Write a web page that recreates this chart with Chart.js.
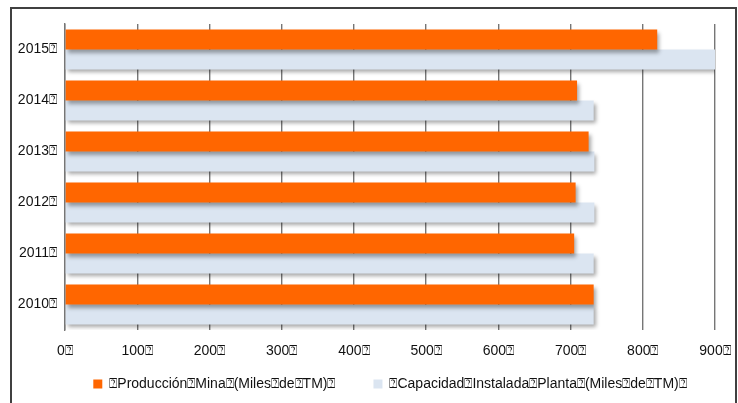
<!DOCTYPE html>
<html>
<head>
<meta charset="utf-8">
<script src="https://cdn.jsdelivr.net/npm/chart.js@4"></script>
<style>
  html, body { margin: 0; padding: 0; background: #ffffff; }
  #wrap { position: relative; width: 738px; height: 403px; overflow: hidden; }
  #frame { position: absolute; left: 10px; top: 7px; width: 723px; height: 420px;
           border: 2px solid #404040; pointer-events: none; }
  canvas { position: absolute; left: 0; top: 0; }
</style>
</head>
<body>
<div id="wrap">
  <canvas id="chart" width="738" height="403"></canvas>
  <div id="frame"></div>
</div>
<script>
// Years, listed top to bottom
const years = ['2015', '2014', '2013', '2012', '2011', '2010'];
// Mine production, thousand tonnes
const produccionMina = [820, 709, 725, 707, 705, 732];
// Installed plant capacity, thousand tonnes
const capacidadPlanta = [900, 732, 733, 733, 732, 732];
// Value axis ticks
const xTicks = [0, 100, 200, 300, 400, 500, 600, 700, 800, 900];

const MARK = '\u2370';
const seriesNames = [
  MARK + 'Producción' + MARK + 'Mina' + MARK + '(Miles' + MARK + 'de' + MARK + 'TM)' + MARK,
  MARK + 'Capacidad' + MARK + 'Instalada' + MARK + 'Planta' + MARK + '(Miles' + MARK + 'de' + MARK + 'TM)' + MARK
];

const FONT = { family: '"Liberation Sans", Arial, sans-serif', size: 14 };

// Soft drop shadow under the bars
const barShadow = {
  id: 'barShadow',
  beforeDatasetsDraw(chart) {
    const c = chart.ctx;
    c.save();
    c.shadowColor = 'rgba(0,0,0,0.35)';
    c.shadowBlur = 4;
    c.shadowOffsetX = 2;
    c.shadowOffsetY = 3;
  },
  afterDatasetsDraw(chart) { chart.ctx.restore(); }
};

new Chart(document.getElementById('chart'), {
  type: 'bar',
  data: {
    labels: years.map(y => y + MARK),
    datasets: [
      { label: seriesNames[0], data: produccionMina, backgroundColor: '#FF6600',
        categoryPercentage: 0.78, barPercentage: 1.0 },
      { label: seriesNames[1], data: capacidadPlanta, backgroundColor: '#DBE5F1',
        categoryPercentage: 0.78, barPercentage: 1.0 }
    ]
  },
  options: {
    indexAxis: 'y',
    responsive: false,
    animation: false,
    devicePixelRatio: 1,
    layout: { padding: { left: 0, right: 23, top: 24, bottom: 2 } },
    scales: {
      x: {
        min: 0, max: 900,
        afterBuildTicks(scale) { scale.ticks = xTicks.map(v => ({ value: v })); },
        afterFit(scale) {
          scale.height = 37;
          scale.paddingLeft = 0;
          scale.paddingRight = 0;
        },
        grid: { display: true, drawTicks: false, color: '#767676', lineWidth: 1.4 },
        border: { display: false },
        ticks: { padding: 13, color: '#111', font: FONT, maxRotation: 0,
                 callback: v => v + MARK }
      },
      y: {
        afterFit(scale) { scale.width = 65; },
        grid: { display: false, drawTicks: false },
        border: { display: true, color: '#767676', width: 1.4 },
        ticks: { padding: 8, color: '#111', font: FONT }
      }
    },
    plugins: {
      tooltip: { enabled: false },
      legend: {
        position: 'bottom',
        fullSize: false,
        labels: {
          boxWidth: 9, boxHeight: 9, padding: 10, color: '#111', font: FONT,
          generateLabels(chart) {
            const items = Chart.defaults.plugins.legend.labels.generateLabels(chart);
            items.forEach(it => { it.lineWidth = 0; it.strokeStyle = 'rgba(0,0,0,0)'; });
            items[0].text = items[0].text + '\u2003\u2003';
            return items;
          }
        }
      }
    }
  },
  plugins: [barShadow]
});
</script>
</body>
</html>
